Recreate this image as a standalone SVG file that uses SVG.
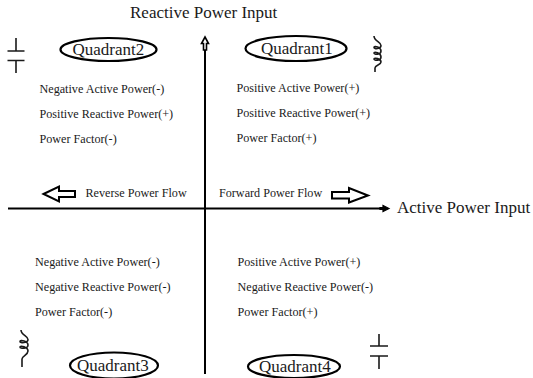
<svg xmlns="http://www.w3.org/2000/svg" width="533" height="378" viewBox="0 0 533 378">
<style>
text{font-family:"Liberation Serif","Times New Roman",serif;fill:#1a1a1a}
.s{font-size:12.150px}
.m{font-size:17px}
.l{font-size:17px}
.axis{fill:none;stroke:#000;stroke-width:2}
.oval{fill:#fff;stroke:#000;stroke-width:2.2}
.sym{fill:none;stroke:#1a1a1a;stroke-width:1.600}
.block{fill:#fff;stroke:#000;stroke-width:2}
</style>
<rect width="533" height="378" fill="#fff"/>
<g id="connectors">
<path class="axis" d="M205 374V46"/>
<path d="M205 37L208.500 43.500H206.500V50H203.500V43.500H201.500Z" fill="#fff" stroke="#000" stroke-width="1.600"/>
<path class="axis" d="M8 208.500H381"/>
<path d="M389 208.500L383 205.500V207.500H380V209.500H383V211.500Z" fill="#000" stroke="#000" stroke-width="1.200"/>
</g>
<g id="axis-y-label"><text class="l" x="130" y="18">Reactive Power Input</text></g>
<g id="axis-x-label"><text class="l" x="397" y="213">Active Power Input</text></g>
<g id="quadrant2"><ellipse class="oval" cx="108.500" cy="49.500" rx="48" ry="11.500"/><text class="m" x="72.500" y="55">Quadrant2</text></g>
<g id="quadrant1"><ellipse class="oval" cx="296" cy="48.500" rx="50.500" ry="12.500"/><text class="m" x="261" y="54">Quadrant1</text></g>
<g id="quadrant3"><ellipse class="oval" cx="114" cy="365.500" rx="44" ry="13"/><text class="m" x="77" y="371">Quadrant3</text></g>
<g id="quadrant4"><ellipse class="oval" cx="294" cy="366.500" rx="46" ry="11.500"/><text class="m" x="259" y="372">Quadrant4</text></g>
<g id="text-q2"><text class="s" x="39.500" y="93">Negative Active Power(-)</text><text class="s" x="39.500" y="118">Positive Reactive Power(+)</text><text class="s" x="39.500" y="143">Power Factor(-)</text></g>
<g id="text-q1"><text class="s" x="236.500" y="92">Positive Active Power(+)</text><text class="s" x="236.500" y="117">Positive Reactive Power(+)</text><text class="s" x="236.500" y="142">Power Factor(+)</text></g>
<g id="text-q3"><text class="s" x="35" y="266">Negative Active Power(-)</text><text class="s" x="35" y="291">Negative Reactive Power(-)</text><text class="s" x="35" y="316">Power Factor(-)</text></g>
<g id="text-q4"><text class="s" x="237.500" y="266">Positive Active Power(+)</text><text class="s" x="237.500" y="291">Negative Reactive Power(-)</text><text class="s" x="237.500" y="316">Power Factor(+)</text></g>
<g id="reverse-flow"><path class="block" d="M43.500 194L59 186.500V191H75V197H59V201.500Z"/><text class="s" x="85.500" y="197">Reverse Power Flow</text></g>
<g id="forward-flow"><path class="block" d="M332 192H349V188L368 195.500L349 202.500V198.500H332Z"/><text class="s" x="219" y="197">Forward Power Flow</text></g>
<g id="capacitor-q2"><path class="sym" d="M16 38V51M7.500 51H24.500M7.500 60.500H24.500M16 60.500V73"/></g>
<g id="capacitor-q4"><path class="sym" d="M379 334V346M370 346H388M370 356H388M379 356V369"/></g>
<g id="inductor-q1"><path class="sym" d="M374 36C374 41 381 42 381 45.500C381 49 374 49.500 374 47.500C374 45.500 381 47 381 51C381 55 374 55 374 53C374 51 381 53 381 57C381 61 374 61 374 59C374 57 381 59 381 62C381 65 375 65 375 68V72"/></g>
<g id="inductor-q3"><path class="sym" d="M21 330C21 335 28 336 28 339.500C28 343 20 343.500 20 341.500C20 339.500 28 341 28 345C28 349 20 349 20 347C20 345 28 347 28 351C28 355 22 356 22 359V367"/></g>
</svg>
